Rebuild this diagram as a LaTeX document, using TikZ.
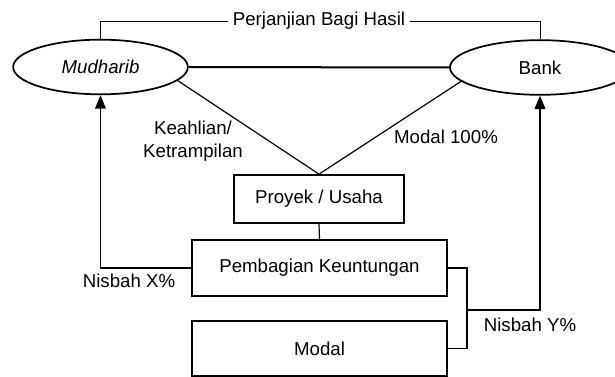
\documentclass[tikz,border=0pt]{standalone}
\usepackage{fontspec}
\setmainfont{Liberation Sans}
\usetikzlibrary{shapes.geometric,arrows.meta,positioning}

\begin{document}
\begin{tikzpicture}[x=0.75pt,y=-0.75pt,
    every node/.style={font=\fontsize{14}{17}\selectfont},
    oval/.style={ellipse,draw,line width=1.3pt,inner sep=0pt,minimum height=41pt},
    kotak/.style={rectangle,draw,line width=1.3pt,inner sep=0pt,minimum width=191pt},
    link/.style={line width=0.9pt},
    panah/.style={-{Triangle[width=8pt,length=10pt]}}]
    \useasboundingbox (0,0) rectangle (615,377);
    % pihak-pihak
    \node[oval,minimum width=131pt] (mudharib) at (100.5,67) {\textit{Mudharib}};
    \node[oval,minimum width=135pt] (bank) at (540,67.5) {Bank};
    % kotak-kotak
    \node[kotak,minimum width=127.5pt,minimum height=36pt] (proyek) at (319,199) {Proyek / Usaha};
    \node[kotak,minimum height=42pt] (pembagian) at (319.5,268) {Pembagian Keuntungan};
    \node[kotak,minimum height=41pt] (modal) at (319.5,348.5) {Modal};
    % perjanjian di atas
    \node (perjanjian) at (319,21) {Perjanjian Bagi Hasil};
    \draw[line width=0.7pt] (mudharib.north) |- (perjanjian.west);
    \draw[line width=0.7pt] (perjanjian.east) -| (bank.north);
    \draw[line width=1.5pt] (mudharib.east) -- (bank.west);
    % ke proyek
    \draw[link] (mudharib.-10) -- (proyek.north);
    \draw[link] (bank.190) -- (proyek.north);
    \node[align=center] (keahlian) at (193,141) {Keahlian/\\Ketrampilan};
    \node (modal100) at (446,137) {Modal 100\%};
    \draw[link] (proyek.south) -- (pembagian.north);
    % nisbah
    \draw[link,panah] (pembagian.west) -| (mudharib.south);
    \node (nisbahx) at (129,281) {Nisbah X\%};
    \coordinate (gabung) at (467,310);
    \draw[link] (pembagian.east) -| (gabung);
    \draw[link] (modal.east) -| (gabung);
    \draw[line width=1.6pt,panah] (gabung) -| (bank.south);
    \node (nisbahy) at (530,325) {Nisbah Y\%};
\end{tikzpicture}
\end{document}
